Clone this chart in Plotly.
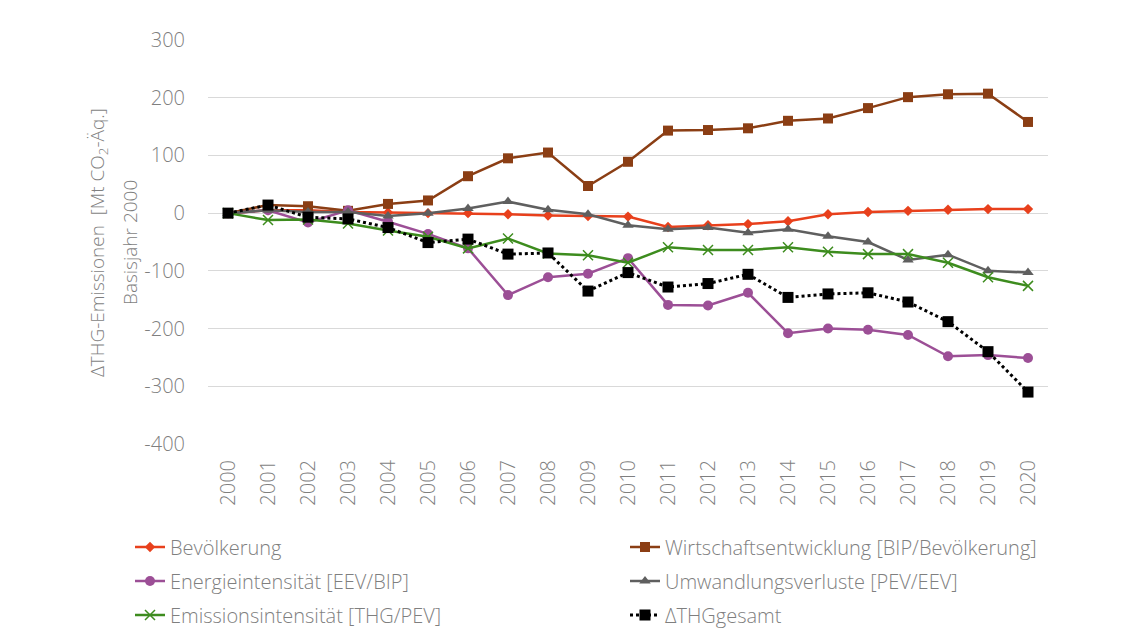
import plotly.graph_objects as go

years = [str(y) for y in range(2000, 2021)]

bevoelkerung = [0, 5, 5, 2, 1, 0, 0, -2, -4, -5, -6, -24, -21, -19, -14, -2, 2, 4, 6, 7, 7]
wirtschaft = [0, 14, 12, 4, 16, 22, 64, 95, 105, 47, 89, 143, 144, 147, 160, 164, 182, 201, 206, 207, 158]
energieintensitaet = [0, 5, -16, 5, -15, -36, -61, -142, -111, -105, -78, -159, -160, -138, -208, -200, -202, -211, -248, -246, -251]
umwandlung = [0, 5, 2, 2, -5, 0, 8, 20, 6, -2, -21, -28, -25, -34, -28, -40, -50, -81, -72, -100, -103]
emissionsintensitaet = [0, -12, -11, -18, -30, -41, -61, -44, -70, -73, -86, -59, -64, -64, -59, -67, -71, -71, -86, -111, -126]
thg_gesamt = [0, 14, -7, -10, -25, -51, -45, -71, -69, -135, -103, -128, -122, -106, -146, -140, -138, -154, -188, -240, -310]

y_tickvals = [300, 200, 100, 0, -100, -200, -300, -400]
y_ticktext = ["300", "200", "100", "0", "-100", "-200", "-300", "-400"]

names = [
    "Bevölkerung",
    "Wirtschaftsentwicklung [BIP/Bevölkerung]",
    "Energieintensität [EEV/BIP]",
    "Umwandlungsverluste [PEV/EEV]",
    "Emissionsintensität [THG/PEV]",
    "ΔTHGgesamt",
]

FONT = "Open Sans"
TXT = "#7f7f7f"
FS = 20

fig = go.Figure()

fig.add_trace(go.Scatter(x=years, y=bevoelkerung, name=names[0], mode="lines+markers",
                         line=dict(color="#E8401C", width=2.5),
                         marker=dict(symbol="diamond", size=8, color="#E8401C"),
                         legend="legend"))
fig.add_trace(go.Scatter(x=years, y=wirtschaft, name=names[1], mode="lines+markers",
                         line=dict(color="#8B3E14", width=2.5),
                         marker=dict(symbol="square", size=10, color="#8B3E14"),
                         legend="legend"))
fig.add_trace(go.Scatter(x=years, y=energieintensitaet, name=names[2], mode="lines+markers",
                         line=dict(color="#9C4F96", width=2.5),
                         marker=dict(symbol="circle", size=10, color="#9C4F96"),
                         legend="legend2"))
fig.add_trace(go.Scatter(x=years, y=umwandlung, name=names[3], mode="lines+markers",
                         line=dict(color="#5F5F5F", width=2.5),
                         marker=dict(symbol="triangle-up", size=10, color="#5F5F5F"),
                         legend="legend2"))
fig.add_trace(go.Scatter(x=years, y=emissionsintensitaet, name=names[4], mode="lines+markers",
                         line=dict(color="#3D8C1E", width=2.5),
                         marker=dict(symbol="x-thin", size=10, color="#3D8C1E",
                                     line=dict(color="#3D8C1E", width=1.5)),
                         legend="legend3"))
fig.add_trace(go.Scatter(x=years, y=thg_gesamt, name=names[5], mode="lines+markers",
                         line=dict(color="#000000", width=3, dash="dot"),
                         marker=dict(symbol="square", size=11, color="#000000"),
                         legend="legend3"))

# plot box in screen (reference) pixels; page body adds an 8px offset
OFF = 8
PLOT_L, PLOT_R, PLOT_T, PLOT_B = 208, 1048, 40, 444
W, H = 1136, 639
ph = PLOT_B - PLOT_T
pw = PLOT_R - PLOT_L


def py(pix):
    return (PLOT_B - pix) / ph


def px(pix):
    return (pix - PLOT_L) / pw


legend_common = dict(orientation="h", xanchor="left", yanchor="middle",
                     font=dict(family=FONT, size=FS, color=TXT, weight=300),
                     entrywidth=450, bgcolor="rgba(0,0,0,0)", itemclick=False)

fig.update_layout(
    width=W, height=H,
    margin=dict(l=PLOT_L - OFF, r=W - (PLOT_R - OFF), t=PLOT_T - OFF, b=H - (PLOT_B - OFF),
                autoexpand=False),
    paper_bgcolor="white", plot_bgcolor="white",
    font=dict(family=FONT, color=TXT, size=FS, weight=300),
    showlegend=True,
    legend=dict(x=px(130), y=py(547), **legend_common),
    legend2=dict(x=px(130), y=py(581), **legend_common),
    legend3=dict(x=px(130), y=py(615), **legend_common),
    xaxis=dict(type="category", range=[-0.5, 20.5], showgrid=False, zeroline=False,
               showline=False, tickangle=-90, ticks="", ticklabelstandoff=11,
               tickfont=dict(family=FONT, size=FS, color=TXT, weight=300)),
    yaxis=dict(range=[-400, 300], tickvals=y_tickvals, ticktext=y_ticktext,
               showgrid=True, gridcolor="#d9d9d9",
               gridwidth=1, zeroline=False, showline=False, ticks="",
               ticklabelstandoff=22,
               tickfont=dict(family=FONT, size=FS, color=TXT, weight=300)),
    annotations=[
        dict(text="ΔTHG-Emissionen  [Mt CO<sub>2</sub>-Äq.]", textangle=-90,
             xref="paper", yref="paper", x=px(98), y=py(243), xanchor="center", yanchor="middle",
             showarrow=False, font=dict(family=FONT, size=19, color=TXT, weight=300)),
        dict(text="Basisjahr 2000", textangle=-90,
             xref="paper", yref="paper", x=px(130), y=py(243), xanchor="center", yanchor="middle",
             showarrow=False, font=dict(family=FONT, size=19, color=TXT, weight=300)),
    ],
)

fig.write_html("out.html")
